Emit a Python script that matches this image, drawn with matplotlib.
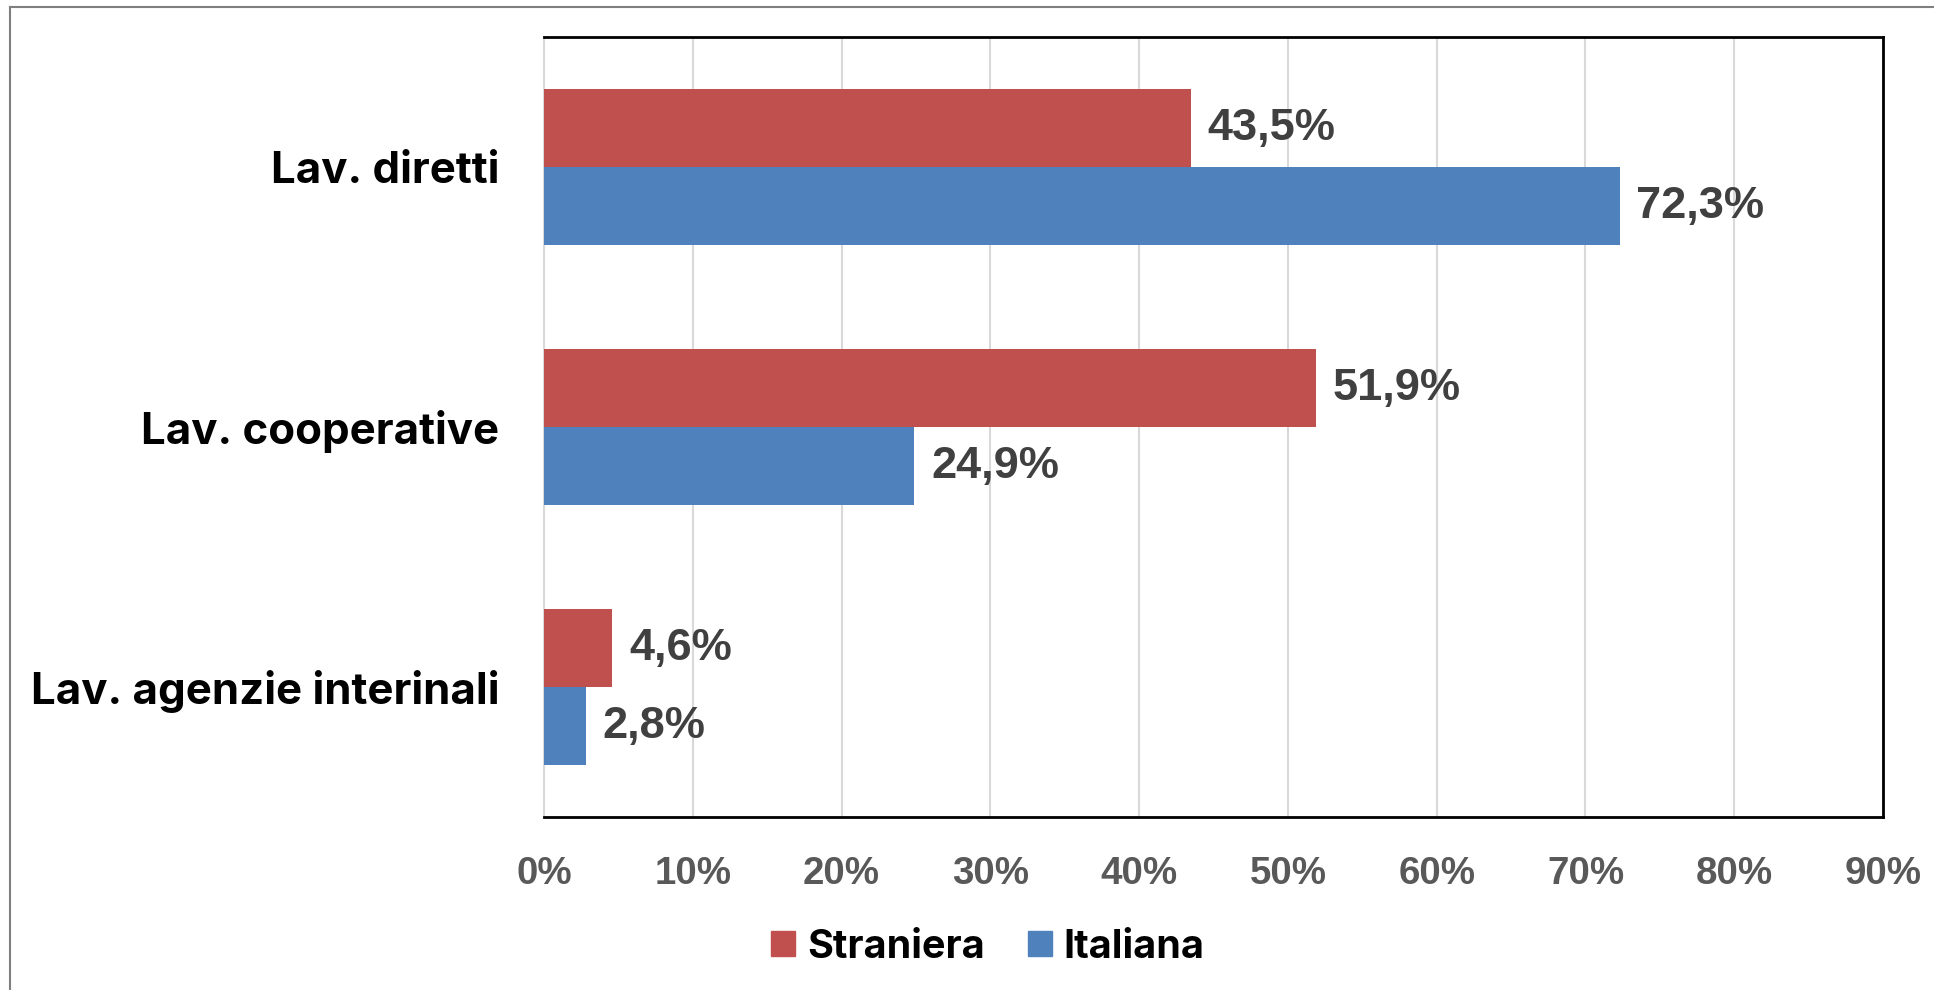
import numpy as np
import matplotlib
matplotlib.use("Agg")
import matplotlib.pyplot as plt
from matplotlib.patches import Patch
from matplotlib.lines import Line2D

# dati (quota di lavoratori per cittadinanza)
categorie = ["Lav. diretti", "Lav. cooperative", "Lav. agenzie interinali"]
straniera = [43.5, 51.9, 4.6]
italiana = [72.3, 24.9, 2.8]
serie_nomi = ["Straniera", "Italiana"]
x_ticks = [0, 10, 20, 30, 40, 50, 60, 70, 80, 90]

ROSSO = "#C0504D"
BLU = "#4F81BD"
FONT_CAT = ["Inter", "DejaVu Sans"]
FONT_NUM = ["Liberation Sans", "DejaVu Sans"]

fig = plt.figure(figsize=(19.34, 9.90), dpi=100)
ax = fig.add_axes([544 / 1934, 1 - 817 / 990, (1883 - 544) / 1934, (817 - 37) / 990])

y = np.arange(len(categorie))
h = 0.3
ax.barh(y - h / 2, straniera, height=h, color=ROSSO, zorder=3)
ax.barh(y + h / 2, italiana, height=h, color=BLU, zorder=3)

for yi, v in zip(y, straniera):
    ax.annotate(f"{v:.1f}%".replace(".", ","), (v, yi - h / 2), xytext=(12, 0),
                textcoords="offset points", va="center", ha="left",
                fontsize=32.5, fontweight="bold", color="#404040", family=FONT_NUM)
for yi, v in zip(y, italiana):
    ax.annotate(f"{v:.1f}%".replace(".", ","), (v, yi + h / 2), xytext=(12, 0),
                textcoords="offset points", va="center", ha="left",
                fontsize=32.5, fontweight="bold", color="#404040", family=FONT_NUM)

ax.set_xlim(0, 90)
ax.set_ylim(2.5, -0.5)
ax.set_xticks(x_ticks)
ax.set_xticklabels([f"{t}%" for t in x_ticks], fontsize=27.7, fontweight="bold",
                   color="#595959", family=FONT_NUM)
ax.set_yticks(y)
ax.set_yticklabels(categorie, fontsize=31.5, fontweight="bold", color="black", family=FONT_CAT)
ax.tick_params(axis="x", length=0, pad=28)
ax.tick_params(axis="y", length=0, pad=32)
ax.grid(axis="x", color="#D9D9D9", linewidth=1.5, zorder=0)

for s in ["top", "right", "bottom"]:
    ax.spines[s].set_color("black")
    ax.spines[s].set_linewidth(2)
ax.spines["left"].set_color("#D9D9D9")
ax.spines["left"].set_linewidth(1.5)

handles = [Patch(color=ROSSO, label=serie_nomi[0]), Patch(color=BLU, label=serie_nomi[1])]
leg = fig.legend(handles=handles, loc="center", bbox_to_anchor=(988 / 1934, 1 - 947 / 990),
                 ncol=2, frameon=False, handlelength=0.6, handleheight=0.6,
                 handletextpad=0.3, columnspacing=1.1,
                 prop={"family": FONT_CAT, "weight": "bold", "size": 28.5})

# cornice esterna (solo lato sinistro e superiore)
fig.add_artist(Line2D([10 / 1934, 1], [1 - 7 / 990, 1 - 7 / 990], color="#7F7F7F", linewidth=1.5))
fig.add_artist(Line2D([10 / 1934, 10 / 1934], [0, 1 - 7 / 990], color="#7F7F7F", linewidth=1.5))

fig.savefig("out.png", dpi=100)
